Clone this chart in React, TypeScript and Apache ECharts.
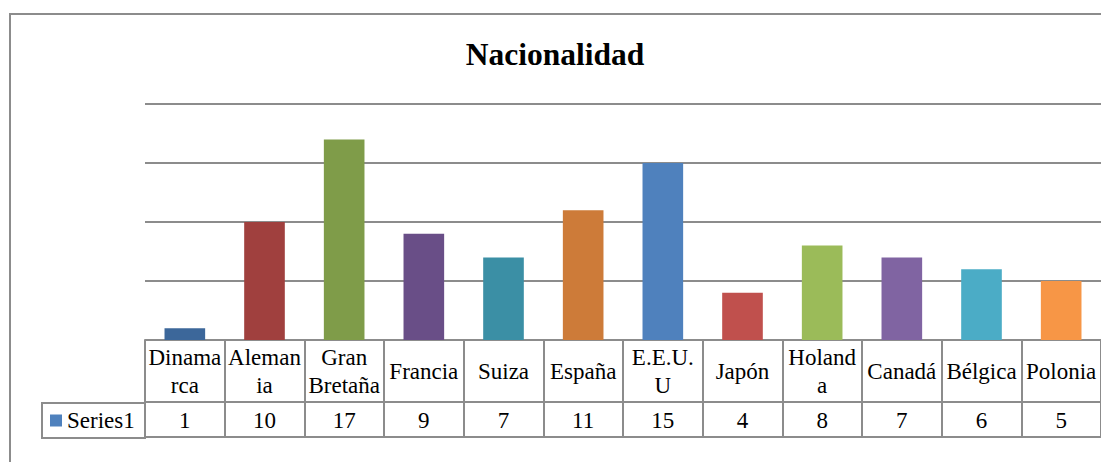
import React, { useEffect, useRef } from "react";
import * as echarts from "echarts";

const categories = [
  "Dinama\nrca",
  "Aleman\nia",
  "Gran\nBretaña",
  "Francia",
  "Suiza",
  "España",
  "E.E.U.\nU",
  "Japón",
  "Holand\na",
  "Canadá",
  "Bélgica",
  "Polonia",
];
const values = [1, 10, 17, 9, 7, 11, 15, 4, 8, 7, 6, 5];
const barColors = [
  "#3C679A",
  "#A0403E",
  "#7F9C49",
  "#694E87",
  "#3B8FA5",
  "#CD7B39",
  "#4F81BD",
  "#C0504D",
  "#9BBB59",
  "#8064A2",
  "#4BACC6",
  "#F79646",
];
const seriesName = "Series1";
const titleText = "Nacionalidad";

const FONT = "Liberation Serif";
const LINE = "#8c8c8c";

export default function App() {
  const ref = useRef<HTMLDivElement>(null);
  useEffect(() => {
    if (!ref.current) return;
    const chart = echarts.init(ref.current, undefined, { renderer: "svg" });
    chart.setOption({
      animation: false,
      backgroundColor: "#ffffff",
      title: {
        text: titleText,
        left: 550,
        top: 33,
        textAlign: "center",
        textStyle: { fontFamily: FONT, fontSize: 31.5, fontWeight: "bold", color: "#000" },
      },
      legend: {
        left: 50,
        top: 409,
        padding: 0,
        icon: "rect",
        itemWidth: 12,
        itemHeight: 12,
        data: [seriesName],
        textStyle: { fontFamily: FONT, fontSize: 23, color: "#000" },
      },
      grid: { left: 145, right: -2, top: 104, bottom: 122 },
      xAxis: [
        {
          type: "category",
          data: categories,
          position: "bottom",
          axisLine: { show: true, lineStyle: { color: LINE, width: 2 } },
          axisTick: { show: true, length: 97, alignWithLabel: false, interval: 0, lineStyle: { color: LINE, width: 2 } },
          axisLabel: {
            interval: 0,
            margin: 31,
            verticalAlign: "middle",
            fontFamily: FONT,
            fontSize: 23,
            lineHeight: 28,
            color: "#000",
          },
          splitLine: { show: false },
        },
        {
          type: "category",
          data: values.map(String),
          position: "bottom",
          offset: 62,
          axisLine: { show: true, lineStyle: { color: LINE, width: 2 } },
          axisTick: { show: false },
          axisLabel: {
            interval: 0,
            margin: 18,
            verticalAlign: "middle",
            fontFamily: FONT,
            fontSize: 23,
            color: "#000",
          },
          splitLine: { show: false },
        },
        {
          type: "category",
          data: categories,
          position: "bottom",
          offset: 97,
          axisLine: { show: true, lineStyle: { color: LINE, width: 2 } },
          axisTick: { show: false },
          axisLabel: { show: false },
          splitLine: { show: false },
        },
      ],
      yAxis: {
        type: "value",
        min: 0,
        max: 20,
        interval: 5,
        axisLine: { show: false },
        axisTick: { show: false },
        axisLabel: { show: false },
        splitLine: { show: true, lineStyle: { color: LINE, width: 2 } },
      },
      series: [
        {
          name: seriesName,
          type: "bar",
          xAxisIndex: 0,
          barWidth: "51%",
          itemStyle: { color: "#4F81BD" },
          data: values.map((v, i) => ({ value: v, itemStyle: { color: barColors[i] } })),
        },
      ],
      graphic: [
        {
          type: "rect",
          shape: { x: 10, y: 14, width: 1200, height: 600 },
          style: { fill: "none", stroke: LINE, lineWidth: 2 },
          silent: true,
          z: -10,
        },
        {
          type: "rect",
          shape: { x: 42, y: 403, width: 103, height: 35 },
          style: { fill: "none", stroke: LINE, lineWidth: 2 },
          silent: true,
        },
      ],
    });
    return () => chart.dispose();
  }, []);
  return (
    <div
      ref={ref}
      style={{ position: "fixed", left: 0, top: 0, width: 1101, height: 462, background: "#fff" }}
    />
  );
}
